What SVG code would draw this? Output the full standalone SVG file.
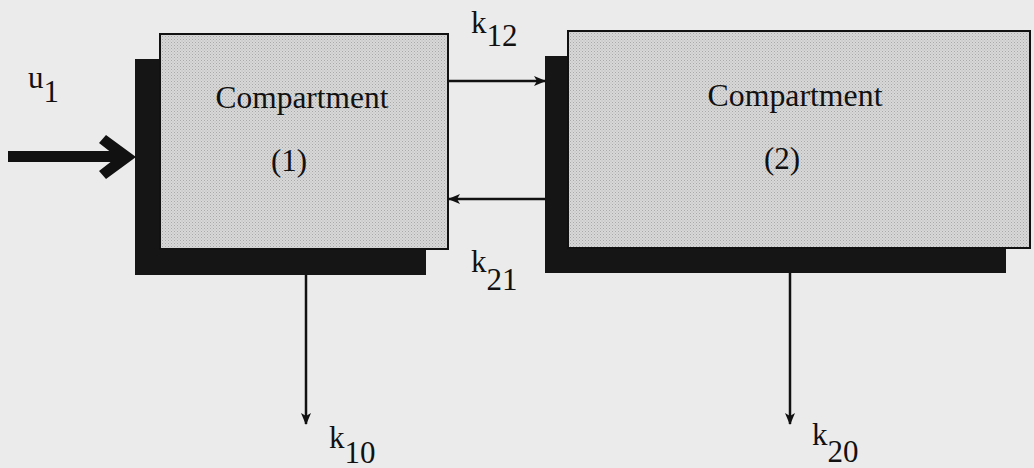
<svg xmlns="http://www.w3.org/2000/svg" width="1034" height="468" viewBox="0 0 1034 468">
  <defs>
    <pattern id="stip" width="3" height="3" patternUnits="userSpaceOnUse">
      <rect width="3" height="3" fill="#d8d8d8"/>
      <rect x="0" y="0" width="1" height="1" fill="#a9a9a9"/>
      <rect x="1.5" y="1.5" width="1" height="1" fill="#b4b4b4"/>
    </pattern>
    <marker id="ah" viewBox="0 0 12 10" refX="11" refY="5" markerWidth="12" markerHeight="10" markerUnits="userSpaceOnUse" orient="auto">
      <path d="M0,0 L12,5 L0,10 L3,5 Z" fill="#111"/>
    </marker>
  </defs>
  <style>
    .shadow { fill: #151515; }
    .front { fill: url(#stip); stroke: #111; stroke-width: 2; }
    .lbl { font-family: "Liberation Serif", "Times New Roman", serif; fill: #111; }
    .conn { stroke: #111; stroke-width: 2.5; fill: none; marker-end: url(#ah); }
  </style>
  <rect width="1034" height="468" fill="#ebebeb"/>

  <g id="compartment1">
    <rect class="shadow" x="135" y="59" width="291" height="216"/>
    <rect class="front" x="160" y="34" width="288" height="215"/>
    <text class="lbl" x="302" y="108" font-size="31" text-anchor="middle" textLength="173" lengthAdjust="spacingAndGlyphs">Compartment</text>
    <text class="lbl" x="289" y="171" font-size="31" text-anchor="middle">(1)</text>
  </g>

  <g id="compartment2">
    <rect class="shadow" x="545" y="56" width="461" height="217"/>
    <rect class="front" x="568" y="31" width="462" height="217"/>
    <text class="lbl" x="795" y="106" font-size="31" text-anchor="middle" textLength="175" lengthAdjust="spacingAndGlyphs">Compartment</text>
    <text class="lbl" x="782" y="169" font-size="31" text-anchor="middle">(2)</text>
  </g>

  <g id="connectors">
    <rect x="8" y="151" width="112" height="11" fill="#111"/>
    <polygon points="99,143 106,135 136,157 106,179 99,171 117,157" fill="#111"/>
    <line class="conn" x1="448" y1="81" x2="545" y2="81"/>
    <line class="conn" x1="545" y1="199" x2="449" y2="199"/>
    <line class="conn" x1="306" y1="275" x2="306" y2="424"/>
    <line class="conn" x1="790" y1="273" x2="790" y2="424"/>
  </g>

  <g id="labels">
    <text class="lbl" x="28" y="88" font-size="31">u<tspan dy="14" font-size="31">1</tspan></text>
    <text class="lbl" x="471" y="33" font-size="31">k<tspan dy="13" font-size="31">12</tspan></text>
    <text class="lbl" x="471" y="272" font-size="31">k<tspan dy="18" font-size="31">21</tspan></text>
    <text class="lbl" x="329" y="448" font-size="31">k<tspan dy="15" font-size="31">10</tspan></text>
    <text class="lbl" x="812" y="445" font-size="31">k<tspan dy="17" font-size="31">20</tspan></text>
  </g>
</svg>
